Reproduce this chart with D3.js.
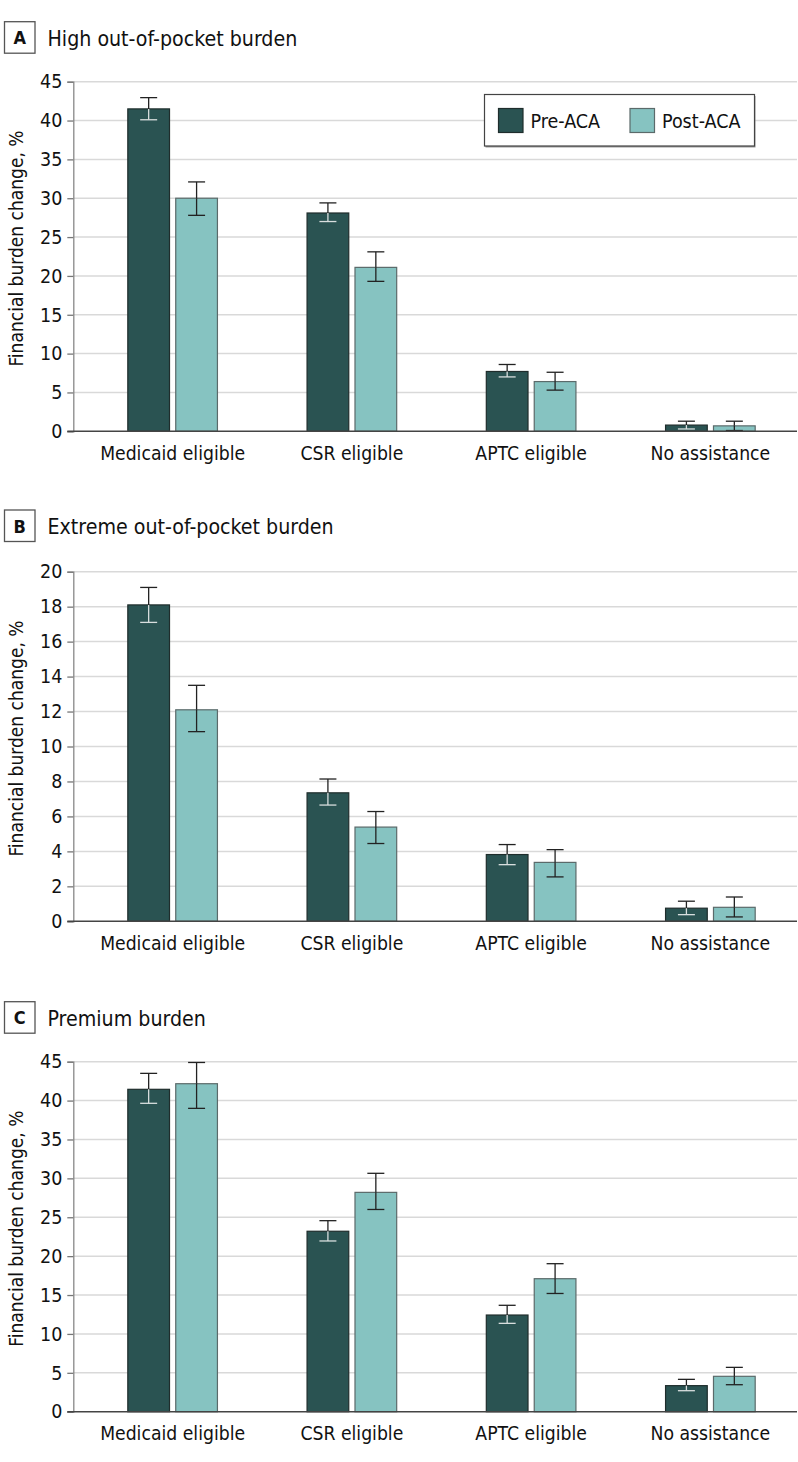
<!DOCTYPE html>
<html>
<head>
<meta charset="utf-8">
<script src="https://cdn.jsdelivr.net/npm/d3@7"></script>
<style>
  html, body { margin: 0; padding: 0; background: #fff; }
  svg { display: block; }
  text { font-family: "DejaVu Sans Condensed", "Liberation Sans Narrow", "Open Sans", sans-serif; fill: #111; }
</style>
</head>
<body>
<svg id="chart" width="798" height="1462"></svg>
<script>
// ---- Data ----
const categories = ["Medicaid eligible", "CSR eligible", "APTC eligible", "No assistance"];
const seriesNames = ["Pre-ACA", "Post-ACA"];
const panelLetters = ["A", "B", "C"];
const panelTitles = ["High out-of-pocket burden", "Extreme out-of-pocket burden", "Premium burden"];
const yMaxes = [45, 20, 45];
const yTicksA = [0, 5, 10, 15, 20, 25, 30, 35, 40, 45];
const yTicksB = [0, 2, 4, 6, 8, 10, 12, 14, 16, 18, 20];
const yTicksC = [0, 5, 10, 15, 20, 25, 30, 35, 40, 45];
const yAxisTitle = "Financial burden change, %";

const highPre      = [41.5, 28.1, 7.7, 0.8];
const highPreLow   = [40.1, 27.0, 7.0, 0.3];
const highPreHigh  = [42.95, 29.4, 8.6, 1.3];
const highPost     = [30.0, 21.1, 6.4, 0.7];
const highPostLow  = [27.8, 19.3, 5.3, 0.1];
const highPostHigh = [32.1, 23.1, 7.6, 1.3];

const extremePre      = [18.1, 7.35, 3.82, 0.75];
const extremePreLow   = [17.1, 6.65, 3.24, 0.38];
const extremePreHigh  = [19.1, 8.14, 4.39, 1.15];
const extremePost     = [12.1, 5.39, 3.37, 0.8];
const extremePostLow  = [10.85, 4.45, 2.54, 0.25];
const extremePostHigh = [13.5, 6.28, 4.1, 1.39];

const premiumPre      = [41.45, 23.2, 12.43, 3.35];
const premiumPreLow   = [39.65, 21.95, 11.36, 2.7];
const premiumPreHigh  = [43.5, 24.56, 13.68, 4.16];
const premiumPost     = [42.17, 28.2, 17.1, 4.55];
const premiumPostLow  = [39.0, 26.0, 15.2, 3.47];
const premiumPostHigh = [44.9, 30.65, 19.03, 5.7];

// ---- Build panel structures ----
function buildRows(pre, preLo, preHi, post, postLo, postHi) {
  return categories.map((c, i) => ({
    cat: c,
    vals: [
      { s: seriesNames[0], v: pre[i], lo: preLo[i], hi: preHi[i] },
      { s: seriesNames[1], v: post[i], lo: postLo[i], hi: postHi[i] }
    ]
  }));
}
const panels = [
  { rows: buildRows(highPre, highPreLow, highPreHigh, highPost, highPostLow, highPostHigh), ticks: yTicksA },
  { rows: buildRows(extremePre, extremePreLow, extremePreHigh, extremePost, extremePostLow, extremePostHigh), ticks: yTicksB },
  { rows: buildRows(premiumPre, premiumPreLow, premiumPreHigh, premiumPost, premiumPostLow, premiumPostHigh), ticks: yTicksC }
];

// ---- Layout ----
const headerTops = [21.7, 510, 1001.7];
const plotTops = [81.7, 571.7, 1061.7];
const plotBottoms = [431.3, 921.3, 1411.7];
const axisX = 73.3;
const gridRight = 797;
const fontStack = "'DejaVu Sans Condensed', 'Liberation Sans Narrow', 'Open Sans', sans-serif";

const colors = { "Pre-ACA": "#2a5352", "Post-ACA": "#86c3c1" };
const strokes = { "Pre-ACA": "#1f2d2c", "Post-ACA": "#5b6a6a" };

const svg = d3.select("#chart");

const x0 = d3.scaleBand().domain(categories).range([83, 800]).paddingInner(0.5).paddingOuter(0.25);
const x1 = d3.scaleBand().domain(seriesNames).range([0, x0.bandwidth()]).paddingInner(0.13);

panels.forEach((p, pi) => {
  const g = svg.append("g");
  const y = d3.scaleLinear().domain([0, yMaxes[pi]]).range([plotBottoms[pi], plotTops[pi]]);

  // header
  const ht = headerTops[pi];
  g.append("rect").attr("x", 4.5).attr("y", ht).attr("width", 30.5).attr("height", 31.5)
    .attr("fill", "#fff").attr("stroke", "#555").attr("stroke-width", 1.3);
  g.append("text").attr("x", 19.75).attr("y", ht + 22.5).attr("text-anchor", "middle")
    .style("font-size", "18px").style("font-weight", "bold").text(panelLetters[pi]);
  g.append("text").attr("x", 47.5).attr("y", ht + 24).style("font-size", "21.2px").text(panelTitles[pi]);

  // grid
  g.append("g").selectAll("line").data(p.ticks.filter(t => t > 0)).join("line")
    .attr("x1", axisX).attr("x2", gridRight)
    .attr("y1", d => y(d)).attr("y2", d => y(d))
    .attr("stroke", "#d9d9d9").attr("stroke-width", 1.5);

  // y axis
  const ax = g.append("g").attr("transform", `translate(${axisX},0)`)
    .call(d3.axisLeft(y).tickValues(p.ticks).tickSize(6).tickPadding(5).tickFormat(d3.format("d")));
  ax.select(".domain").attr("stroke", "#888").attr("stroke-width", 1.3);
  ax.selectAll(".tick line").attr("stroke", "#777").attr("stroke-width", 1.3);
  ax.selectAll(".tick text").style("font-size", "19.5px").style("font-family", fontStack).attr("fill", "#111");

  // y axis title
  g.append("text")
    .attr("transform", `translate(23,${(plotTops[pi] + plotBottoms[pi]) / 2 - 8}) rotate(-90)`)
    .attr("text-anchor", "middle").style("font-size", "19px").text(yAxisTitle);

  // bars
  const groups = g.append("g").selectAll("g").data(p.rows).join("g")
    .attr("transform", d => `translate(${x0(d.cat)},0)`);
  groups.selectAll("rect").data(d => d.vals).join("rect")
    .attr("x", d => x1(d.s)).attr("width", x1.bandwidth())
    .attr("y", d => y(d.v)).attr("height", d => y(0) - y(d.v))
    .attr("fill", d => colors[d.s]).attr("stroke", d => strokes[d.s]).attr("stroke-width", 1.2);

  // error bars
  const eb = groups.selectAll("g.err").data(d => d.vals).join("g").attr("class", "err");
  const cap = 8.5;
  const cx = d => x1(d.s) + x1.bandwidth() / 2;
  eb.append("line").attr("x1", cx).attr("x2", cx).attr("y1", d => y(d.hi)).attr("y2", d => y(d.v))
    .attr("stroke", "#222").attr("stroke-width", 1.3);
  eb.append("line").attr("x1", d => cx(d) - cap).attr("x2", d => cx(d) + cap)
    .attr("y1", d => y(d.hi)).attr("y2", d => y(d.hi)).attr("stroke", "#222").attr("stroke-width", 1.3);
  eb.append("line").attr("x1", cx).attr("x2", cx).attr("y1", d => y(d.v)).attr("y2", d => y(d.lo))
    .attr("stroke", d => d.s === "Pre-ACA" ? "#d8dede" : "#222").attr("stroke-width", 1.3);
  eb.append("line").attr("x1", d => cx(d) - cap).attr("x2", d => cx(d) + cap)
    .attr("y1", d => y(d.lo)).attr("y2", d => y(d.lo))
    .attr("stroke", d => d.s === "Pre-ACA" ? "#d8dede" : "#222").attr("stroke-width", 1.3);

  // baseline
  g.append("line").attr("x1", axisX - 6).attr("x2", gridRight).attr("y1", y(0)).attr("y2", y(0))
    .attr("stroke", "#444").attr("stroke-width", 1.5);

  // x labels
  g.append("g").selectAll("text").data(categories).join("text")
    .attr("x", d => x0(d) + x0.bandwidth() / 2).attr("y", y(0) + 28.5)
    .attr("text-anchor", "middle").style("font-size", "19.2px").text(d => d);

  // legend in panel A
  if (pi === 0) {
    const lg = g.append("g").attr("transform", "translate(484.5,94.5)");
    lg.append("rect").attr("x", 1).attr("y", 1.5).attr("width", 270).attr("height", 51.5).attr("fill", "#999");
    lg.append("rect").attr("width", 270).attr("height", 51.5).attr("fill", "#fff")
      .attr("stroke", "#444").attr("stroke-width", 1.2);
    const items = lg.selectAll("g").data(seriesNames).join("g")
      .attr("transform", (d, i) => `translate(${i === 0 ? 14 : 145.5},14)`);
    items.append("rect").attr("width", 24.5).attr("height", 24).attr("fill", d => colors[d])
      .attr("stroke", d => strokes[d]).attr("stroke-width", 1.2);
    items.append("text").attr("x", 32).attr("y", 19).style("font-size", "19.5px").text(d => d);
  }
});
</script>
</body>
</html>
